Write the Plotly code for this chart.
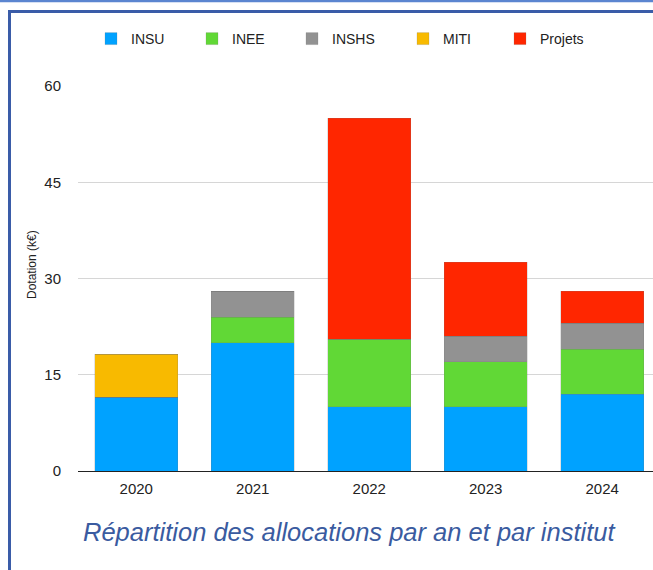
import plotly.graph_objects as go

years = ["2020", "2021", "2022", "2023", "2024"]
insu = [11.5, 20, 10, 10, 12]
inee = [0, 4, 10.5, 7, 7]
inshs = [0, 4, 0, 4, 4]
miti = [6.7, 0, 0, 0, 0]
projets = [0, 0, 34.5, 11.5, 5]
y_ticks = [0, 15, 30, 45, 60]

series = [
    ("INSU", insu, "#00a2ff"),
    ("INEE", inee, "#61d836"),
    ("INSHS", inshs, "#929292"),
    ("MITI", miti, "#f8ba00"),
    ("Projets", projets, "#ff2600"),
]
legend_left_px = [105, 206, 306, 417, 514]

W, H = 653, 570
L, R, T, B = 78, 0, 86, 99
pw, ph = W - L - R, H - T - B

def px(x):
    return (x - L) / pw

def py(y):
    return (H - B - y) / ph

fig = go.Figure()
legend_layouts = {}
for i, (name, vals, col) in enumerate(series):
    lname = "legend" if i == 0 else f"legend{i + 1}"
    fig.add_trace(go.Bar(
        x=years, y=vals, name=name, legend=lname,
        marker=dict(color=col, line=dict(color="rgba(120,120,120,0.35)", width=0.6)),
    ))
    legend_layouts[lname] = dict(
        orientation="h", x=px(legend_left_px[i] - 14), y=py(39),
        xanchor="left", yanchor="middle",
        font=dict(size=14, color="#222"), bgcolor="rgba(0,0,0,0)",
    )

fig.update_layout(
    width=W, height=H,
    margin=dict(l=L, r=R, t=T, b=B, autoexpand=False),
    barmode="stack", bargap=0.288,
    plot_bgcolor="white", paper_bgcolor="white",
    font=dict(family="Liberation Sans, Arial, Helvetica, sans-serif", size=14, color="#222"),
    showlegend=True,
    xaxis=dict(range=[-0.5, 4.436], showgrid=False, ticks="", ticklabelstandoff=7,
               tickfont=dict(size=15, color="#222"), fixedrange=True),
    yaxis=dict(range=[0, 60], tickvals=y_ticks, showgrid=True, gridcolor="#d6d6d6", gridwidth=1,
               zeroline=True, zerolinecolor="#222", zerolinewidth=1.3,
               ticklabelstandoff=16, tickfont=dict(size=15, color="#222")),
    annotations=[
        dict(text="Dotation (k€)", textangle=-90, x=px(32), y=py(265), xref="paper", yref="paper",
             showarrow=False, xanchor="center", yanchor="middle",
             font=dict(size=12, color="#222")),
        dict(text="<i>Répartition des allocations par an et par institut</i>", x=px(349), y=py(532),
             xref="paper", yref="paper", showarrow=False, xanchor="center", yanchor="middle",
             font=dict(size=25.5, color="#3a5ba0")),
    ],
    shapes=[
        dict(type="line", xref="paper", yref="paper", x0=px(9.5), x1=px(9.5), y0=py(10), y1=py(575),
             line=dict(color="#3a5ca8", width=3)),
        dict(type="line", xref="paper", yref="paper", x0=px(8), x1=px(660), y0=py(11.5), y1=py(11.5),
             line=dict(color="#3a5ca8", width=3)),
        dict(type="line", xref="paper", yref="paper", x0=px(-5), x1=px(660), y0=py(1), y1=py(1),
             line=dict(color="#5b85d0", width=2.5)),
    ],
    **legend_layouts,
)

fig.write_html("out.html", config={"displayModeBar": False},
               post_script="document.body.style.margin='0';document.body.style.overflow='hidden';")
